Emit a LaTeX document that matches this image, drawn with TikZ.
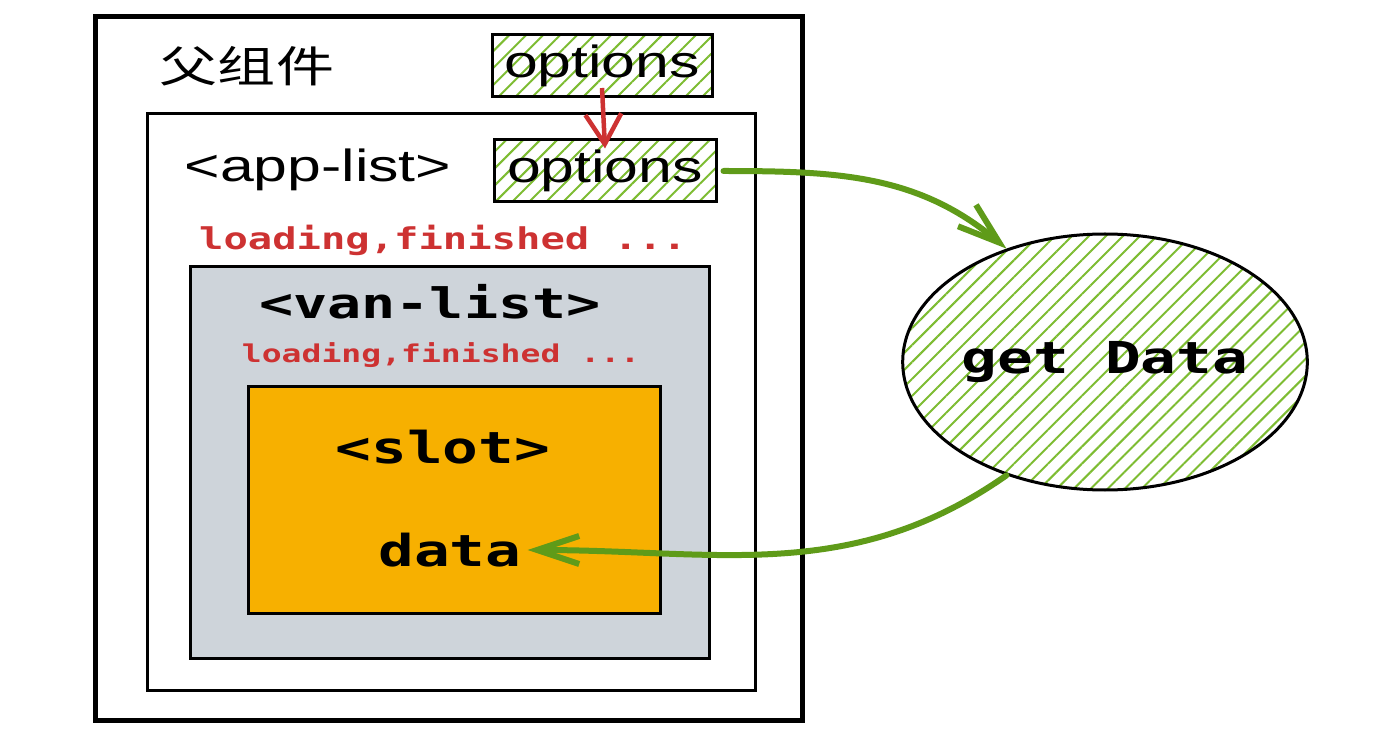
\documentclass[tikz,border=0pt]{standalone}
\usepackage{fontspec}
\usepackage{tikz}
\usetikzlibrary{arrows.meta,positioning,shapes.geometric,patterns.meta}
\newfontfamily\cjkfont{Noto Sans CJK SC}[FakeStretch=1.35]
\newfontfamily\labelfont{Liberation Sans}[FakeStretch=1.35]
\newfontfamily\codefont{DejaVu Sans Mono}[FakeStretch=1.35]
\definecolor{hatchgreen}{RGB}{125,188,50}
\definecolor{arrowgreen}{RGB}{95,155,25}
\definecolor{propred}{RGB}{205,50,50}
\definecolor{listgray}{RGB}{206,212,218}
\definecolor{slotorange}{RGB}{247,176,0}

\tikzset{
  frame/.style={draw=black, rectangle, inner sep=0pt},
  hatched/.style={draw=black, line width=3pt, pattern={Lines[angle=45,distance=12pt,line width=2pt]}, pattern color=hatchgreen},
  code/.style={font=\codefont\bfseries\fontsize{44}{48}\selectfont, inner sep=0pt},
  state/.style={font=\codefont\bfseries\fontsize{#1}{#1}\selectfont, text=propred, inner sep=0pt},
  flow/.style={arrowgreen, line width=6pt, line cap=round, -{Straight Barb[length=42pt,width=28pt]}},
}

\begin{document}
\begin{tikzpicture}[x=1pt,y=1pt]
\useasboundingbox (0,0) rectangle (1400,748);
% Parent component
\node[frame, line width=5pt, minimum width=707pt, minimum height=703pt] (parent) at (448.5,379.5) {};
\node[font=\cjkfont\fontsize{43}{48}\selectfont, inner sep=0pt] (ptitle) at (247,682) {父组件};
\node[hatched, rectangle, inner sep=0pt, minimum width=220pt, minimum height=62pt, font=\labelfont\fontsize{45}{48}\selectfont] (opt1) at (602,682) {options};
% <app-list>
\node[frame, line width=3pt, minimum width=608pt, minimum height=576pt] (applist) at (451,346) {};
\node[font=\labelfont\fontsize{45}{48}\selectfont, inner sep=0pt] (atitle) at (318,578) {<app-list>};
\node[hatched, rectangle, inner sep=0pt, minimum width=222pt, minimum height=62pt, font=\labelfont\fontsize{45}{48}\selectfont] (opt2) at (605,577) {options};
\node[state=30] (astate) at (443,508) {loading,finished ...};
% <van-list>
\node[frame, line width=3pt, fill=listgray, minimum width=519pt, minimum height=391pt] (vanlist) at (449.5,285.5) {};
\node[code, font=\codefont\bfseries\fontsize{42}{48}\selectfont] (vtitle) at (430,446) {<van-list>};
\node[state=24.5] (vstate) at (441,393) {loading,finished ...};
% <slot>
\node[frame, line width=3pt, fill=slotorange, minimum width=412pt, minimum height=226pt] (slot) at (454,248) {};
\node[code] (stitle) at (443,301) {<slot>};
\node[code, inner sep=6pt] (data) at (450,198) {data};
% getData
\node[hatched, ellipse, code, minimum width=390pt, minimum height=256pt] (getdata) at (1105,386) {get Data};
% Arrows
\draw[propred, line width=4.5pt, -{Straight Barb[length=30pt,width=36pt]}] ([yshift=10pt]opt1.south) -- ([yshift=-10pt]opt2.north);
\draw[flow] ([xshift=6pt]opt2.east) to[out=0,in=140] (getdata.131);
\draw[flow] (getdata.229) to[out=215,in=0] (data.east);
\end{tikzpicture}
\end{document}
